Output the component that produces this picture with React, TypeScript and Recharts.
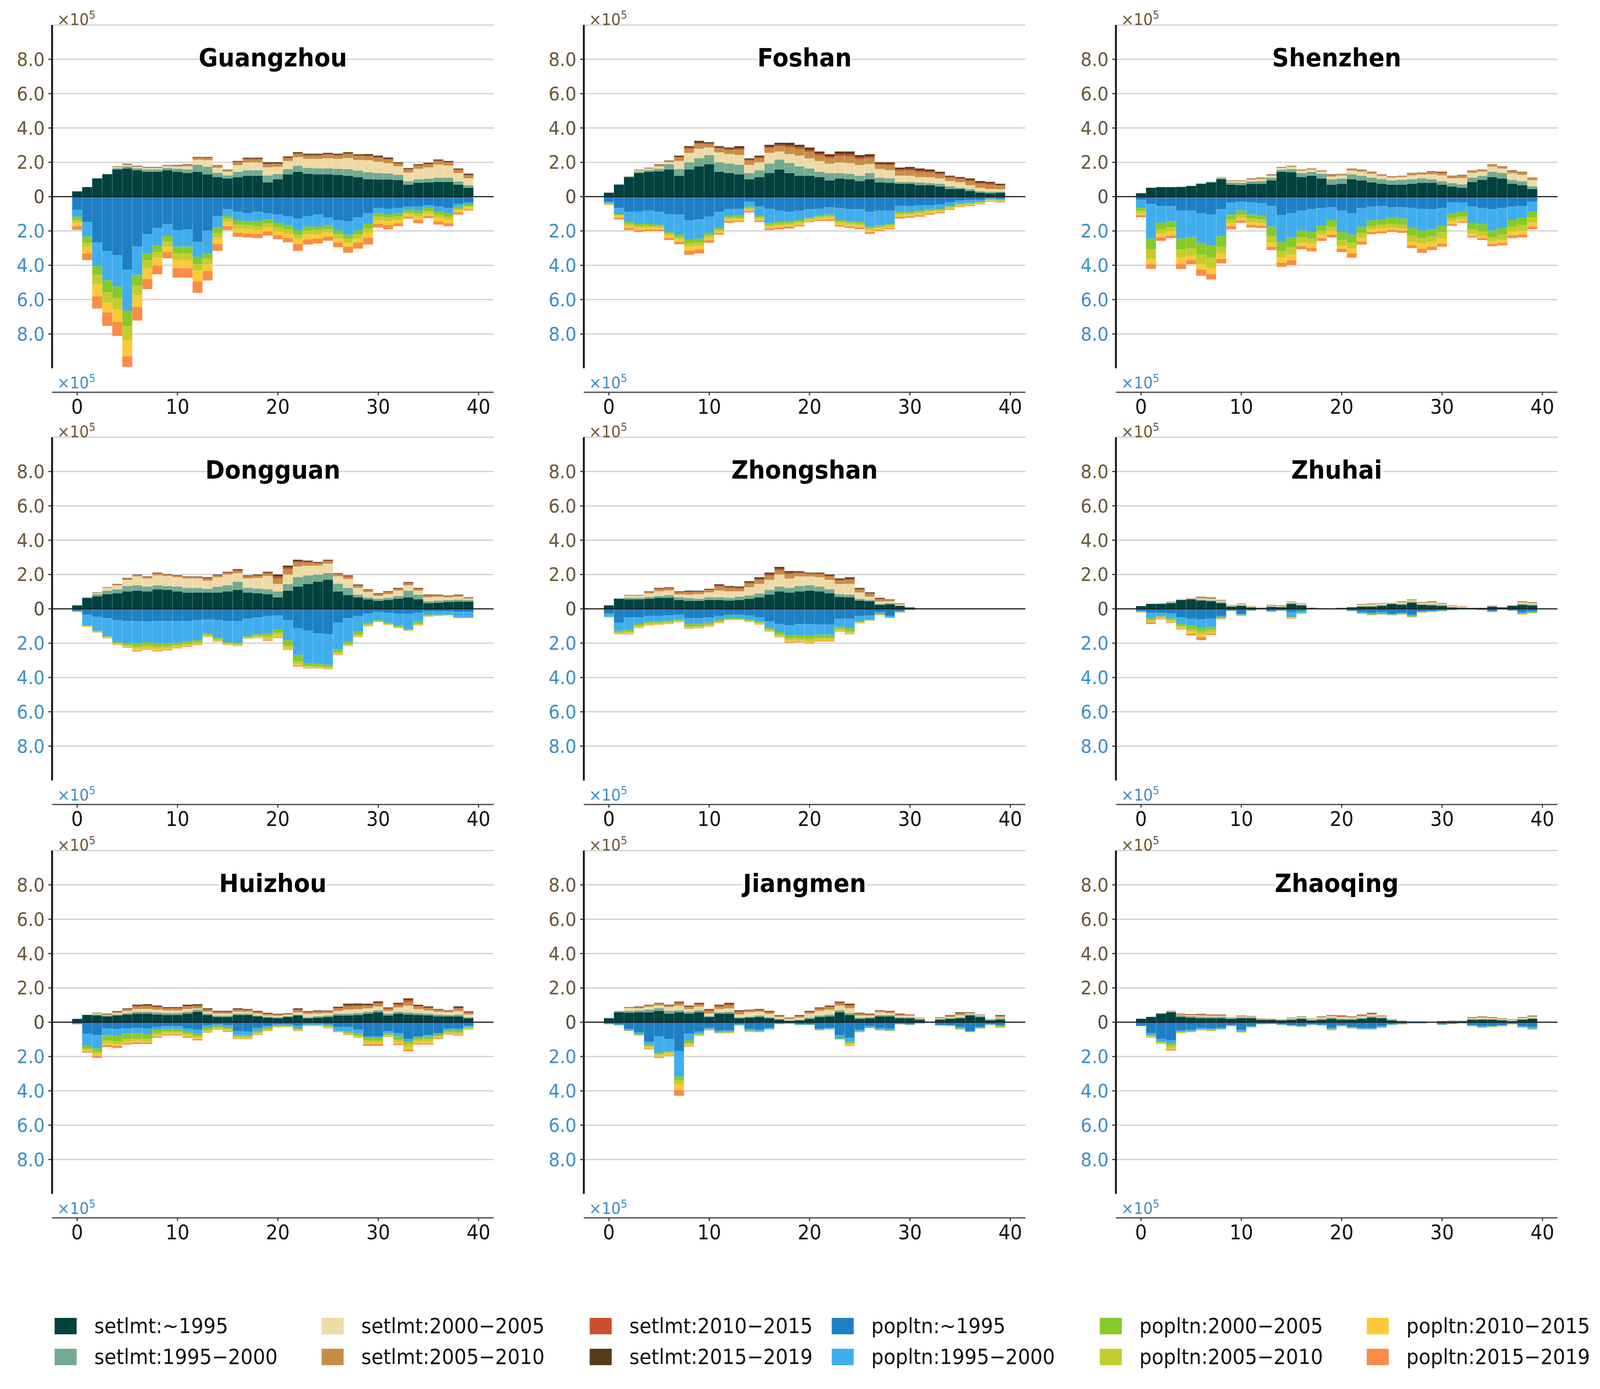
import { BarChart, Bar, XAxis, YAxis, CartesianGrid, ReferenceLine } from 'recharts';

// x categories (distance bins) and tick values
const BINS = [
  0, 1, 2, 3, 4, 5, 6, 7, 8, 9, 10, 11, 12, 13, 14, 15, 16, 17, 18, 19,
  20, 21, 22, 23, 24, 25, 26, 27, 28, 29, 30, 31, 32, 33, 34, 35, 36, 37, 38, 39,
];
const X_TICKS = [0, 10, 20, 30, 40];
const Y_TICKS = [-8, -6, -4, -2, 0, 2, 4, 6, 8];

const SETLMT_LABELS = ['setlmt:~1995', 'setlmt:1995−2000', 'setlmt:2000−2005', 'setlmt:2005−2010', 'setlmt:2010−2015', 'setlmt:2015−2019'];
const POPLTN_LABELS = ['popltn:~1995', 'popltn:1995−2000', 'popltn:2000−2005', 'popltn:2005−2010', 'popltn:2010−2015', 'popltn:2015−2019'];
const SETLMT_COLORS = ['#01423e', '#72aa92', '#efdaa7', '#c78d45', '#c9502a', '#553a1c'];
const POPLTN_COLORS = ['#1e80c4', '#40aeee', '#87c929', '#c5cd2c', '#fcc938', '#f98c46'];

const CITIES = ['Guangzhou', 'Foshan', 'Shenzhen', 'Dongguan', 'Zhongshan', 'Zhuhai', 'Huizhou', 'Jiangmen', 'Zhaoqing'];

// values in 1e5, one row per bin, columns follow the label order above
const guangzhouSetlmt = [
  [0.31,0,0,0,0,0],[0.56,0,0,0,0,0],[1.06,0.02,0,0,0,0],[1.3,0.03,0,0,0,0],
  [1.58,0.08,0.06,0.03,0.01,0.01],[1.64,0.12,0.08,0.04,0.02,0.02],[1.53,0.12,0.08,0.04,0.01,0.02],[1.45,0.14,0.08,0.03,0.01,0.02],
  [1.45,0.14,0.08,0.03,0.01,0.02],[1.53,0.14,0.1,0.04,0.01,0.02],[1.45,0.18,0.12,0.06,0.02,0.02],[1.37,0.22,0.18,0.07,0.02,0.03],
  [1.45,0.4,0.3,0.1,0.03,0.03],[1.3,0.45,0.38,0.12,0.03,0.03],[1.14,0.25,0.3,0.1,0.03,0.02],[1.06,0.18,0.22,0.08,0.02,0.02],
  [1.14,0.3,0.4,0.16,0.04,0.04],[1.22,0.32,0.45,0.18,0.05,0.05],[1.22,0.32,0.45,0.18,0.05,0.05],[0.83,0.4,0.48,0.18,0.05,0.06],
  [1.02,0.3,0.42,0.16,0.04,0.06],[1.3,0.3,0.48,0.16,0.04,0.06],[1.45,0.35,0.5,0.18,0.05,0.06],[1.33,0.35,0.52,0.18,0.05,0.07],
  [1.3,0.35,0.55,0.18,0.05,0.07],[1.3,0.35,0.58,0.2,0.05,0.07],[1.27,0.35,0.58,0.18,0.05,0.07],[1.22,0.38,0.65,0.22,0.05,0.07],
  [1.14,0.38,0.62,0.22,0.05,0.06],[1.02,0.4,0.7,0.22,0.06,0.08],[1.0,0.38,0.65,0.22,0.06,0.08],[1.0,0.35,0.6,0.2,0.06,0.07],
  [0.97,0.3,0.5,0.15,0.04,0.04],[0.7,0.2,0.5,0.18,0.04,0.04],[0.8,0.22,0.6,0.18,0.04,0.05],[0.83,0.22,0.65,0.18,0.04,0.05],
  [0.86,0.25,0.75,0.2,0.05,0.05],[0.86,0.25,0.7,0.17,0.05,0.05],[0.7,0.18,0.5,0.17,0.04,0.05],[0.52,0.15,0.4,0.17,0.04,0.06],
];
const guangzhouPopltn = [
  [0.77,0.4,0.19,0.16,0.2,0.22],[1.48,0.85,0.36,0.26,0.36,0.39],[2.66,1.4,0.5,0.55,0.7,0.71],[3.16,1.72,0.7,0.62,0.55,0.78],
  [3.42,1.81,0.66,0.7,0.71,0.81],[4.25,2.39,0.89,0.86,0.91,0.62],[2.92,1.64,0.63,0.54,0.71,0.78],[2.19,1.12,0.39,0.47,0.63,0.59],
  [1.83,1.01,0.39,0.32,0.47,0.5],[1.59,0.71,0.31,0.31,0.31,0.36],[1.95,0.97,0.39,0.39,0.47,0.55],[1.91,1.01,0.39,0.39,0.47,0.55],
  [2.64,0.88,0.42,0.39,0.62,0.66],[1.98,1.33,0.32,0.31,0.39,0.55],[1.13,0.67,0.34,0.24,0.39,0.39],[0.73,0.4,0.15,0.19,0.25,0.23],
  [0.89,0.5,0.25,0.22,0.25,0.23],[0.97,0.47,0.23,0.23,0.24,0.24],[0.89,0.55,0.28,0.23,0.23,0.24],[0.97,0.36,0.23,0.24,0.23,0.24],
  [1.05,0.47,0.27,0.23,0.23,0.23],[1.13,0.54,0.24,0.27,0.23,0.25],[1.28,0.7,0.24,0.23,0.32,0.39],[1.13,0.62,0.23,0.23,0.28,0.3],
  [1.05,0.7,0.2,0.23,0.27,0.28],[1.2,0.47,0.23,0.2,0.24,0.23],[1.36,0.62,0.23,0.23,0.23,0.28],[1.44,0.78,0.23,0.24,0.23,0.35],
  [1.2,0.78,0.23,0.24,0.23,0.35],[0.97,0.62,0.25,0.25,0.3,0.4],[0.66,0.31,0.2,0.22,0.2,0.21],[0.7,0.34,0.19,0.2,0.23,0.25],
  [0.66,0.31,0.2,0.19,0.19,0.17],[0.58,0.2,0.16,0.11,0.12,0.11],[0.58,0.23,0.19,0.17,0.19,0.19],[0.5,0.16,0.19,0.12,0.16,0.12],
  [0.58,0.31,0.16,0.19,0.2,0.19],[0.66,0.31,0.2,0.19,0.19,0.17],[0.42,0.16,0.12,0.11,0.11,0.13],[0.34,0.11,0.09,0.08,0.11,0.08],
];

const foshanSetlmt = [
  [0.23,0,0,0,0,0],[0.7,0.02,0,0,0,0],[1.14,0.03,0.02,0.01,0,0],[1.38,0.08,0.06,0.04,0.01,0.01],
  [1.45,0.1,0.08,0.04,0.01,0.01],[1.48,0.14,0.14,0.08,0.02,0.03],[1.58,0.31,0.12,0.06,0.02,0.02],[1.22,0.39,0.47,0.19,0.06,0.06],
  [1.58,0.42,0.55,0.24,0.07,0.08],[1.77,0.47,0.55,0.28,0.08,0.1],[1.89,0.53,0.44,0.19,0.06,0.06],[1.45,0.55,0.58,0.22,0.07,0.07],
  [1.38,0.55,0.55,0.24,0.07,0.07],[1.3,0.55,0.58,0.3,0.09,0.12],[1.02,0.36,0.47,0.24,0.07,0.07],[1.14,0.39,0.47,0.24,0.07,0.08],
  [1.38,0.55,0.62,0.28,0.09,0.1],[1.58,0.58,0.47,0.31,0.09,0.11],[1.38,0.58,0.52,0.39,0.12,0.15],[1.22,0.55,0.62,0.39,0.11,0.13],
  [1.22,0.42,0.59,0.38,0.11,0.14],[1.14,0.31,0.62,0.33,0.1,0.13],[0.95,0.42,0.55,0.33,0.1,0.12],[1.06,0.31,0.62,0.38,0.12,0.14],
  [1.02,0.31,0.62,0.4,0.12,0.16],[0.91,0.31,0.62,0.35,0.1,0.13],[1.02,0.36,0.52,0.34,0.1,0.13],[0.83,0.28,0.5,0.23,0.07,0.09],
  [0.8,0.27,0.47,0.28,0.08,0.1],[0.75,0.11,0.36,0.28,0.09,0.1],[0.75,0.11,0.36,0.31,0.09,0.11],[0.67,0.16,0.31,0.3,0.09,0.11],
  [0.67,0.12,0.34,0.27,0.08,0.1],[0.59,0.16,0.31,0.23,0.07,0.09],[0.44,0.16,0.31,0.19,0.06,0.06],[0.44,0.08,0.31,0.19,0.06,0.06],
  [0.33,0.11,0.23,0.23,0.07,0.09],[0.23,0.09,0.19,0.23,0.07,0.1],[0.2,0.08,0.16,0.25,0.08,0.09],[0.23,0.05,0.16,0.19,0.06,0.06],
];
const foshanPopltn = [
  [0.3,0.09,0.03,0.03,0.03,0.02],[0.66,0.36,0.05,0.05,0.12,0.09],[0.89,0.59,0.11,0.11,0.12,0.13],[0.86,0.73,0.11,0.11,0.13,0.12],
  [0.81,0.78,0.11,0.1,0.12,0.1],[0.89,0.75,0.09,0.1,0.1,0.09],[1.02,1.04,0.11,0.11,0.13,0.12],[1.05,1.17,0.14,0.13,0.15,0.13],
  [1.39,1.11,0.22,0.2,0.24,0.23],[1.33,1.12,0.21,0.2,0.23,0.22],[1.17,0.94,0.14,0.14,0.15,0.15],[0.89,0.94,0.1,0.1,0.1,0.09],
  [0.73,0.4,0.1,0.09,0.1,0.1],[0.7,0.42,0.1,0.09,0.1,0.07],[0.3,0.28,0.08,0.08,0.09,0.09],[0.58,0.55,0.08,0.09,0.09,0.09],
  [0.7,0.85,0.1,0.1,0.1,0.1],[0.81,0.67,0.1,0.11,0.11,0.11],[0.89,0.55,0.1,0.11,0.1,0.11],[0.81,0.55,0.1,0.1,0.09,0.09],
  [0.73,0.47,0.07,0.07,0.07,0.07],[0.7,0.42,0.07,0.08,0.07,0.08],[0.61,0.44,0.09,0.09,0.09,0.1],[0.66,0.7,0.1,0.1,0.1,0.09],
  [0.73,0.7,0.1,0.1,0.1,0.1],[0.73,0.75,0.1,0.1,0.1,0.12],[0.89,0.86,0.1,0.11,0.1,0.11],[0.81,0.86,0.09,0.09,0.09,0.08],
  [0.81,0.78,0.08,0.08,0.08,0.08],[0.55,0.34,0.09,0.1,0.1,0.1],[0.55,0.34,0.08,0.09,0.09,0.08],[0.5,0.31,0.09,0.09,0.09,0.09],
  [0.5,0.23,0.08,0.08,0.08,0.08],[0.45,0.25,0.07,0.07,0.07,0.06],[0.34,0.2,0.06,0.06,0.06,0.05],[0.23,0.16,0.06,0.06,0.05,0.05],
  [0.19,0.16,0.05,0.05,0.05,0.05],[0.19,0.11,0.04,0.04,0.04,0.03],[0.08,0.06,0.05,0.04,0.04,0.03],[0.11,0.08,0.04,0.04,0.04,0.03],
];

const shenzhenSetlmt = [
  [0.2,0,0,0,0,0],[0.52,0,0,0,0,0],[0.56,0,0,0,0,0],[0.55,0.01,0,0,0,0],
  [0.56,0.02,0.01,0,0,0],[0.62,0.01,0.01,0,0,0],[0.75,0.02,0.01,0,0,0],[0.83,0.03,0.01,0.01,0,0],
  [1.02,0.06,0.04,0.01,0.01,0],[0.7,0.12,0.08,0.03,0.01,0.01],[0.67,0.14,0.09,0.03,0.01,0.01],[0.75,0.14,0.1,0.04,0.01,0.02],
  [0.75,0.16,0.12,0.05,0.01,0.02],[0.95,0.15,0.12,0.05,0.01,0.02],[1.45,0.12,0.1,0.04,0.01,0.01],[1.42,0.19,0.12,0.05,0.01,0.01],
  [1.14,0.23,0.14,0.05,0.01,0.01],[1.22,0.23,0.12,0.05,0.01,0.01],[1.06,0.27,0.13,0.05,0.01,0.01],[0.7,0.31,0.16,0.09,0.02,0.02],
  [0.75,0.31,0.17,0.08,0.01,0.01],[1.02,0.28,0.22,0.09,0.02,0.01],[0.95,0.27,0.23,0.1,0.02,0.01],[0.83,0.28,0.22,0.09,0.02,0.01],
  [0.75,0.27,0.18,0.07,0.02,0.01],[0.7,0.25,0.16,0.06,0.01,0.01],[0.7,0.28,0.16,0.06,0.01,0.01],[0.75,0.27,0.22,0.1,0.02,0.02],
  [0.8,0.27,0.22,0.09,0.02,0.01],[0.8,0.22,0.28,0.13,0.03,0.02],[0.7,0.2,0.34,0.15,0.03,0.03],[0.59,0.2,0.28,0.11,0.02,0.02],
  [0.52,0.19,0.38,0.13,0.03,0.02],[0.86,0.25,0.28,0.11,0.02,0.01],[0.98,0.23,0.25,0.1,0.01,0.01],[1.14,0.31,0.3,0.11,0.02,0.01],
  [1.06,0.31,0.27,0.1,0.02,0.01],[0.75,0.23,0.38,0.13,0.02,0.02],[0.67,0.23,0.38,0.13,0.02,0.02],[0.44,0.16,0.36,0.12,0.02,0.01],
];
const shenzhenPopltn = [
  [0.19,0.47,0.16,0.14,0.12,0.12],[0.42,2.03,0.63,0.55,0.31,0.26],[0.55,0.97,0.39,0.23,0.23,0.21],[0.55,0.89,0.36,0.22,0.25,0.15],
  [0.81,1.64,0.63,0.47,0.39,0.28],[0.81,1.56,0.63,0.47,0.23,0.24],[0.97,1.72,0.7,0.55,0.31,0.36],[1.05,1.79,0.7,0.63,0.34,0.32],
  [0.73,1.57,0.63,0.39,0.31,0.26],[0.34,0.71,0.28,0.19,0.2,0.19],[0.3,0.51,0.23,0.19,0.16,0.13],[0.34,0.71,0.23,0.2,0.16,0.16],
  [0.39,0.73,0.23,0.19,0.16,0.13],[0.55,1.2,0.55,0.39,0.23,0.19],[1.08,1.53,0.55,0.39,0.31,0.23],[0.97,1.41,0.55,0.47,0.31,0.28],
  [0.81,1.17,0.39,0.31,0.2,0.19],[0.73,1.33,0.39,0.31,0.23,0.2],[0.66,1.02,0.31,0.23,0.2,0.16],[0.61,0.75,0.39,0.27,0.2,0.16],
  [0.81,1.25,0.47,0.31,0.2,0.19],[0.97,1.25,0.47,0.31,0.31,0.24],[0.66,1.09,0.36,0.27,0.23,0.19],[0.58,0.81,0.31,0.2,0.16,0.13],
  [0.55,0.78,0.31,0.22,0.16,0.12],[0.61,0.62,0.36,0.2,0.14,0.13],[0.61,0.67,0.36,0.22,0.13,0.12],[0.66,1.17,0.44,0.34,0.23,0.16],
  [0.7,1.28,0.44,0.34,0.28,0.23],[0.73,1.17,0.42,0.33,0.27,0.19],[0.66,1.02,0.39,0.39,0.28,0.18],[0.34,0.63,0.27,0.2,0.16,0.1],
  [0.34,0.55,0.28,0.16,0.11,0.08],[0.58,0.94,0.39,0.23,0.16,0.08],[0.66,0.94,0.42,0.25,0.16,0.1],[0.73,1.25,0.39,0.23,0.16,0.13],
  [0.66,1.17,0.39,0.31,0.16,0.15],[0.58,0.78,0.39,0.31,0.2,0.16],[0.55,0.69,0.41,0.34,0.23,0.16],[0.3,0.59,0.34,0.28,0.23,0.16],
];

const dongguanSetlmt = [
  [0.2,0.02,0,0,0,0],[0.64,0.02,0.01,0,0,0],[0.73,0.12,0.06,0.03,0.01,0.01],[0.86,0.2,0.16,0.03,0.01,0.01],
  [0.91,0.23,0.23,0.05,0.01,0.02],[1.02,0.31,0.36,0.07,0.02,0.02],[1.06,0.31,0.52,0.07,0.02,0.02],[1.02,0.28,0.47,0.08,0.02,0.02],
  [1.14,0.23,0.58,0.1,0.03,0.03],[1.11,0.22,0.59,0.07,0.02,0.02],[1.02,0.28,0.55,0.07,0.02,0.02],[0.95,0.27,0.55,0.08,0.02,0.02],
  [0.95,0.27,0.55,0.08,0.02,0.02],[0.95,0.22,0.47,0.12,0.04,0.04],[0.95,0.34,0.55,0.1,0.03,0.03],[1.02,0.36,0.62,0.1,0.03,0.03],
  [1.11,0.47,0.5,0.14,0.04,0.05],[0.95,0.27,0.55,0.11,0.04,0.03],[0.91,0.27,0.62,0.12,0.04,0.04],[0.86,0.28,0.78,0.14,0.05,0.05],
  [0.67,0.34,0.44,0.33,0.11,0.11],[1.06,0.39,0.55,0.31,0.1,0.11],[1.3,0.55,0.62,0.23,0.08,0.08],[1.45,0.5,0.56,0.18,0.06,0.06],
  [1.58,0.42,0.52,0.13,0.04,0.04],[1.69,0.39,0.55,0.15,0.04,0.04],[1.02,0.44,0.44,0.12,0.03,0.03],[0.8,0.42,0.52,0.13,0.04,0.04],
  [0.67,0.16,0.39,0.12,0.04,0.04],[0.55,0.12,0.31,0.1,0.03,0.03],[0.47,0.12,0.16,0.1,0.03,0.03],[0.52,0.12,0.22,0.11,0.03,0.03],
  [0.59,0.16,0.31,0.1,0.03,0.03],[0.67,0.39,0.31,0.11,0.04,0.04],[0.55,0.28,0.23,0.1,0.03,0.03],[0.33,0.11,0.23,0.1,0.03,0.03],
  [0.36,0.12,0.22,0.08,0.03,0.02],[0.39,0.12,0.16,0.07,0.02,0.02],[0.42,0.12,0.16,0.08,0.03,0.02],[0.42,0.09,0.08,0.05,0.01,0.02],
];
const dongguanPopltn = [
  [0.11,0.05,0.01,0.01,0.01,0],[0.34,0.63,0.03,0.02,0.02,0.01],[0.45,0.83,0.04,0.03,0.02,0.02],[0.55,1.04,0.05,0.03,0.03,0.02],
  [0.66,1.29,0.06,0.04,0.04,0.02],[0.7,1.31,0.11,0.07,0.05,0.03],[0.7,1.31,0.2,0.12,0.1,0.05],[0.73,1.22,0.2,0.1,0.08,0.05],
  [0.7,1.31,0.2,0.12,0.1,0.05],[0.7,1.31,0.18,0.1,0.08,0.05],[0.7,1.28,0.14,0.08,0.06,0.04],[0.7,1.2,0.14,0.08,0.06,0.04],
  [0.66,1.17,0.12,0.07,0.05,0.04],[0.61,0.83,0.08,0.05,0.04,0.03],[0.66,1.02,0.1,0.06,0.04,0.03],[0.7,1.25,0.07,0.04,0.03,0.02],
  [0.7,1.28,0.08,0.05,0.04,0.02],[0.58,1.02,0.07,0.04,0.03,0.01],[0.5,0.98,0.09,0.06,0.04,0.03],[0.42,1.02,0.16,0.1,0.1,0.06],
  [0.39,0.81,0.2,0.14,0.1,0.06],[0.66,1.17,0.31,0.12,0.08,0.04],[1.13,1.56,0.39,0.14,0.08,0.06],[1.28,1.88,0.17,0.07,0.04,0.03],
  [1.44,1.77,0.14,0.06,0.03,0.03],[1.48,1.78,0.14,0.06,0.03,0.03],[0.81,1.56,0.17,0.08,0.04,0.03],[0.55,1.36,0.14,0.06,0.04,0.02],
  [0.42,0.91,0.17,0.07,0.04,0.03],[0.27,0.54,0.11,0.05,0.03,0.02],[0.19,0.47,0.06,0.03,0.01,0.01],[0.23,0.58,0.07,0.03,0.02,0.01],
  [0.27,0.7,0.09,0.04,0.02,0.01],[0.3,0.88,0.06,0.02,0.01,0.01],[0.23,0.5,0.13,0.06,0.03,0.02],[0.14,0.2,0.07,0.03,0.02,0.01],
  [0.14,0.2,0.05,0.02,0.01,0],[0.14,0.2,0.03,0.01,0.01,0],[0.19,0.31,0.03,0.01,0.01,0],[0.19,0.31,0.03,0.01,0.01,0],
];

const zhongshanSetlmt = [
  [0.2,0,0,0,0,0],[0.59,0.02,0.01,0,0,0],[0.55,0.09,0.12,0.03,0.01,0.01],[0.55,0.09,0.12,0.03,0.01,0.01],
  [0.59,0.11,0.2,0.07,0.02,0.03],[0.64,0.11,0.27,0.12,0.04,0.04],[0.64,0.16,0.27,0.11,0.03,0.04],[0.52,0.16,0.16,0.11,0.03,0.04],
  [0.47,0.16,0.2,0.14,0.04,0.05],[0.47,0.12,0.27,0.12,0.04,0.04],[0.52,0.16,0.28,0.13,0.04,0.04],[0.52,0.16,0.39,0.22,0.07,0.07],
  [0.48,0.16,0.38,0.19,0.06,0.06],[0.52,0.19,0.31,0.17,0.05,0.06],[0.59,0.2,0.47,0.21,0.07,0.07],[0.67,0.23,0.55,0.23,0.08,0.08],
  [0.83,0.28,0.58,0.25,0.08,0.09],[1.02,0.28,0.7,0.26,0.09,0.09],[0.95,0.27,0.55,0.26,0.08,0.09],[1.02,0.31,0.56,0.18,0.06,0.06],
  [1.06,0.31,0.52,0.14,0.04,0.04],[1.02,0.28,0.55,0.16,0.05,0.05],[0.91,0.23,0.55,0.19,0.06,0.06],[0.7,0.16,0.59,0.19,0.06,0.07],
  [0.67,0.16,0.62,0.23,0.08,0.08],[0.48,0.11,0.36,0.16,0.05,0.06],[0.44,0.08,0.19,0.15,0.05,0.05],[0.23,0.06,0.14,0.12,0.04,0.05],
  [0.27,0.06,0.11,0.08,0.02,0.02],[0.17,0.03,0.06,0.05,0.01,0.01],[0.08,0.01,0.01,0,0,0],[0.03,0,0,0,0,0],
  [0,0,0,0,0,0],[0,0,0,0,0,0],[0,0,0,0,0,0],[0,0,0,0,0,0],
  [0,0,0,0,0,0],[0,0,0,0,0,0],[0,0,0,0,0,0],[0,0,0,0,0,0],
];
const zhongshanPopltn = [
  [0.27,0.19,0.02,0.01,0.01,0],[0.81,0.47,0.08,0.05,0.04,0.03],[0.5,0.7,0.12,0.07,0.05,0.04],[0.5,0.36,0.12,0.07,0.05,0.03],
  [0.42,0.34,0.09,0.06,0.04,0.02],[0.42,0.31,0.1,0.06,0.03,0.02],[0.39,0.3,0.09,0.06,0.03,0.02],[0.34,0.27,0.08,0.05,0.02,0.02],
  [0.55,0.34,0.13,0.08,0.04,0.03],[0.55,0.34,0.12,0.07,0.03,0.02],[0.5,0.31,0.11,0.07,0.04,0.02],[0.42,0.23,0.09,0.05,0.03,0.02],
  [0.34,0.2,0.06,0.03,0.02,0.01],[0.34,0.2,0.06,0.03,0.02,0.01],[0.39,0.22,0.08,0.04,0.03,0.01],[0.5,0.23,0.09,0.05,0.03,0.02],
  [0.73,0.39,0.1,0.06,0.03,0.02],[0.89,0.47,0.14,0.09,0.05,0.03],[0.97,0.55,0.2,0.13,0.08,0.05],[0.89,0.63,0.19,0.12,0.07,0.05],
  [0.89,0.66,0.2,0.13,0.08,0.06],[0.92,0.59,0.17,0.11,0.07,0.05],[0.92,0.59,0.17,0.11,0.07,0.05],[0.58,0.47,0.12,0.08,0.05,0.03],
  [0.58,0.55,0.16,0.1,0.06,0.03],[0.42,0.28,0.07,0.05,0.03,0.01],[0.39,0.22,0.05,0.02,0.01,0.01],[0.19,0.11,0.04,0.02,0.01,0.01],
  [0.42,0.08,0.02,0.01,0,0],[0.14,0.05,0.02,0.01,0,0],[0.05,0.01,0,0,0,0],[0,0,0,0,0,0],
  [0,0,0,0,0,0],[0,0,0,0,0,0],[0,0,0,0,0,0],[0,0,0,0,0,0],
  [0,0,0,0,0,0],[0,0,0,0,0,0],[0,0,0,0,0,0],[0,0,0,0,0,0],
];

const zhuhaiSetlmt = [
  [0.16,0.01,0,0,0,0],[0.28,0.02,0.01,0,0,0],[0.28,0.03,0.01,0.01,0,0],[0.33,0.05,0.04,0.02,0,0],
  [0.52,0.02,0.01,0.01,0,0],[0.55,0.04,0.03,0.01,0.01,0],[0.48,0.06,0.07,0.04,0.03,0.02],[0.44,0.06,0.08,0.05,0.02,0.02],
  [0.33,0.06,0.08,0.03,0.01,0.01],[0.12,0.04,0.04,0.02,0.01,0],[0.17,0.05,0.05,0.02,0.01,0.01],[0.08,0.03,0.04,0.01,0.01,0],
  [0.05,0.01,0.01,0.01,0,0],[0.11,0.04,0.04,0.02,0.01,0.01],[0.09,0.04,0.04,0.02,0.01,0.01],[0.28,0.06,0.07,0.02,0.01,0],
  [0.2,0.04,0.06,0.02,0.01,0],[0.05,0.01,0.01,0.01,0,0],[0.03,0.01,0,0,0,0],[0.01,0,0,0,0,0],
  [0.05,0.01,0.01,0,0,0],[0.08,0.02,0.01,0.01,0,0],[0.12,0.04,0.07,0.03,0.01,0.01],[0.12,0.05,0.08,0.04,0.01,0.01],
  [0.17,0.05,0.07,0.02,0.01,0.01],[0.28,0.03,0.03,0.01,0.01,0],[0.23,0.06,0.09,0.04,0.01,0.01],[0.36,0.06,0.08,0.03,0.01,0.01],
  [0.23,0.04,0.07,0.03,0.01,0.01],[0.2,0.06,0.1,0.05,0.02,0.01],[0.17,0.04,0.07,0.03,0.01,0.01],[0.08,0.03,0.05,0.02,0.01,0.01],
  [0.05,0.03,0.05,0.02,0.01,0],[0.05,0.01,0.01,0,0,0],[0.05,0.01,0,0,0,0],[0.12,0.02,0.04,0.01,0.01,0],
  [0.08,0.01,0.02,0.01,0,0],[0.17,0.02,0.02,0.01,0.01,0],[0.23,0.05,0.09,0.04,0.02,0.01],[0.2,0.05,0.08,0.04,0.01,0.01],
];
const zhuhaiPopltn = [
  [0.11,0.06,0.02,0.02,0.01,0.01],[0.23,0.32,0.08,0.07,0.08,0.11],[0.23,0.19,0.06,0.05,0.04,0.04],[0.27,0.28,0.08,0.07,0.06,0.05],
  [0.5,0.39,0.11,0.08,0.07,0.05],[0.58,0.39,0.23,0.13,0.11,0.11],[0.61,0.52,0.2,0.16,0.16,0.18],[0.58,0.47,0.19,0.12,0.08,0.08],
  [0.42,0.08,0.04,0.03,0.02,0.02],[0.08,0.03,0.01,0.01,0.01,0],[0.3,0.05,0.03,0.02,0.01,0.01],[0.08,0.02,0.01,0,0,0],
  [0.02,0.01,0,0,0,0],[0.11,0.04,0.02,0.01,0.01,0],[0.08,0.02,0.01,0,0,0],[0.19,0.26,0.05,0.03,0.03,0.02],
  [0.11,0.12,0.03,0.02,0.01,0.01],[0.02,0.01,0,0,0,0],[0.01,0,0,0,0,0],[0,0,0,0,0,0],
  [0.02,0,0,0,0,0],[0.1,0.02,0.01,0.01,0,0],[0.19,0.06,0.02,0.02,0.01,0],[0.23,0.08,0.03,0.02,0.01,0.01],
  [0.19,0.1,0.02,0.02,0.01,0],[0.27,0.08,0.02,0.01,0.01,0],[0.23,0.07,0.02,0.01,0.01,0],[0.34,0.08,0.04,0.02,0.01,0.01],
  [0.14,0.04,0.02,0.02,0.01,0],[0.11,0.04,0.02,0.01,0.01,0],[0.08,0.03,0.02,0.01,0,0],[0.05,0.02,0.01,0,0,0],
  [0.03,0.01,0,0,0,0],[0.02,0.01,0,0,0,0],[0.05,0.01,0,0,0,0],[0.14,0.03,0.01,0.01,0,0],
  [0.03,0.01,0,0,0,0],[0.08,0.02,0.01,0,0,0],[0.19,0.08,0.03,0.02,0.01,0.01],[0.14,0.06,0.03,0.02,0.01,0.01],
];

const huizhouSetlmt = [
  [0.19,0.01,0,0,0,0],[0.42,0.02,0.01,0,0,0],[0.39,0.06,0.05,0.03,0.01,0.01],[0.34,0.05,0.03,0.04,0.02,0.02],
  [0.39,0.06,0.09,0.06,0.02,0.03],[0.45,0.09,0.11,0.09,0.03,0.04],[0.5,0.11,0.16,0.14,0.05,0.06],[0.5,0.11,0.16,0.16,0.06,0.06],
  [0.45,0.12,0.16,0.13,0.05,0.06],[0.42,0.12,0.14,0.11,0.04,0.05],[0.42,0.12,0.14,0.11,0.04,0.05],[0.5,0.11,0.16,0.14,0.05,0.06],
  [0.61,0.12,0.08,0.13,0.05,0.06],[0.42,0.08,0.12,0.1,0.04,0.05],[0.3,0.08,0.12,0.09,0.03,0.04],[0.3,0.08,0.12,0.09,0.03,0.04],
  [0.42,0.08,0.12,0.1,0.04,0.05],[0.42,0.08,0.11,0.09,0.03,0.04],[0.34,0.05,0.11,0.09,0.03,0.04],[0.27,0.05,0.08,0.08,0.03,0.04],
  [0.23,0.06,0.09,0.06,0.02,0.03],[0.3,0.05,0.08,0.06,0.02,0.02],[0.39,0.06,0.12,0.13,0.05,0.06],[0.23,0.06,0.2,0.09,0.03,0.04],
  [0.27,0.08,0.16,0.1,0.04,0.04],[0.3,0.09,0.14,0.09,0.03,0.03],[0.39,0.11,0.16,0.13,0.05,0.06],[0.39,0.11,0.23,0.19,0.07,0.09],
  [0.42,0.12,0.22,0.18,0.07,0.08],[0.5,0.11,0.2,0.15,0.05,0.07],[0.58,0.12,0.22,0.16,0.06,0.07],[0.39,0.11,0.16,0.11,0.04,0.05],
  [0.5,0.11,0.25,0.15,0.05,0.07],[0.45,0.12,0.39,0.23,0.1,0.1],[0.42,0.12,0.22,0.14,0.05,0.07],[0.39,0.11,0.19,0.13,0.05,0.05],
  [0.34,0.11,0.16,0.09,0.03,0.04],[0.34,0.08,0.16,0.07,0.02,0.03],[0.34,0.11,0.2,0.14,0.05,0.08],[0.23,0.06,0.16,0.09,0.04,0.05],
];
const huizhouPopltn = [
  [0.08,0.03,0.01,0,0,0],[0.67,0.71,0.16,0.08,0.08,0.07],[0.75,0.78,0.2,0.12,0.11,0.12],[0.36,0.39,0.31,0.16,0.11,0.12],
  [0.39,0.41,0.31,0.16,0.11,0.12],[0.36,0.31,0.31,0.13,0.11,0.08],[0.33,0.31,0.31,0.11,0.11,0.1],[0.36,0.34,0.28,0.13,0.08,0.08],
  [0.28,0.16,0.2,0.11,0.08,0.08],[0.23,0.16,0.16,0.09,0.06,0.07],[0.23,0.16,0.16,0.09,0.06,0.07],[0.36,0.19,0.12,0.08,0.08,0.08],
  [0.44,0.23,0.12,0.11,0.08,0.08],[0.17,0.16,0.11,0.08,0.05,0.04],[0.12,0.11,0.08,0.05,0.04,0.04],[0.17,0.12,0.1,0.07,0.05,0.05],
  [0.52,0.23,0.08,0.08,0.04,0.03],[0.55,0.2,0.08,0.08,0.04,0.03],[0.33,0.16,0.1,0.07,0.05,0.04],[0.2,0.12,0.08,0.05,0.04,0.03],
  [0.12,0.08,0.04,0.03,0.02,0.01],[0.12,0.08,0.04,0.02,0.02,0.01],[0.2,0.16,0.06,0.04,0.03,0.03],[0.08,0.08,0.03,0.02,0.01,0.01],
  [0.08,0.08,0.03,0.02,0.01,0.01],[0.12,0.08,0.06,0.04,0.03,0.03],[0.28,0.23,0.04,0.02,0.01,0.01],[0.28,0.27,0.08,0.06,0.03,0.03],
  [0.44,0.23,0.1,0.07,0.04,0.03],[0.83,0.08,0.16,0.11,0.09,0.11],[0.83,0.08,0.16,0.11,0.09,0.11],[0.52,0.12,0.09,0.06,0.04,0.03],
  [0.64,0.19,0.2,0.13,0.09,0.08],[0.98,0.13,0.16,0.16,0.16,0.1],[0.83,0.08,0.12,0.11,0.08,0.08],[0.75,0.08,0.16,0.12,0.11,0.08],
  [0.64,0.06,0.1,0.08,0.05,0.05],[0.36,0.12,0.09,0.06,0.05,0.04],[0.36,0.12,0.11,0.08,0.06,0.05],[0.2,0.08,0.06,0.04,0.03,0.03],
];

const jiangmenSetlmt = [
  [0.23,0.02,0.01,0,0,0],[0.58,0.06,0.01,0.01,0,0],[0.55,0.11,0.16,0.04,0.02,0.01],[0.58,0.11,0.12,0.06,0.03,0.02],
  [0.58,0.16,0.16,0.07,0.03,0.02],[0.66,0.16,0.16,0.09,0.04,0.02],[0.5,0.16,0.23,0.07,0.03,0.03],[0.58,0.12,0.27,0.13,0.06,0.04],
  [0.5,0.11,0.16,0.11,0.05,0.04],[0.58,0.12,0.22,0.11,0.05,0.05],[0.3,0.05,0.16,0.15,0.06,0.05],[0.5,0.08,0.19,0.14,0.06,0.05],
  [0.5,0.11,0.2,0.17,0.08,0.07],[0.23,0.06,0.16,0.14,0.06,0.05],[0.27,0.06,0.25,0.08,0.04,0.03],[0.3,0.09,0.22,0.08,0.04,0.04],
  [0.23,0.06,0.2,0.09,0.04,0.04],[0.14,0.05,0.11,0.07,0.03,0.02],[0.08,0.03,0.08,0.04,0.02,0.02],[0.11,0.03,0.13,0.08,0.04,0.03],
  [0.19,0.08,0.23,0.08,0.04,0.04],[0.3,0.09,0.27,0.11,0.05,0.04],[0.34,0.11,0.28,0.13,0.06,0.05],[0.58,0.12,0.27,0.13,0.06,0.04],
  [0.42,0.12,0.27,0.15,0.07,0.05],[0.19,0.08,0.12,0.09,0.04,0.03],[0.23,0.06,0.09,0.06,0.03,0.03],[0.34,0.08,0.16,0.07,0.03,0.02],
  [0.34,0.08,0.11,0.07,0.03,0.03],[0.23,0.06,0.09,0.06,0.03,0.03],[0.23,0.06,0.09,0.03,0.02,0.02],[0.14,0.05,0.05,0.02,0.01,0],
  [0.03,0.01,0.01,0.01,0,0],[0.14,0.05,0.05,0.03,0.02,0.01],[0.19,0.05,0.06,0.07,0.03,0.02],[0.23,0.06,0.12,0.09,0.04,0.04],
  [0.39,0.06,0.05,0.04,0.02,0.02],[0.3,0.05,0.05,0.03,0.01,0.01],[0.11,0.03,0.02,0.02,0.01,0],[0.14,0.09,0.06,0.07,0.03,0.03],
];
const jiangmenPopltn = [
  [0.08,0.03,0.01,0,0,0],[0.12,0.05,0.02,0.01,0,0],[0.39,0.09,0.02,0.01,0.01,0],[0.59,0.11,0.03,0.02,0.02,0.01],
  [1.14,0.16,0.09,0.06,0.08,0.05],[0.83,0.94,0.08,0.08,0.08,0.07],[0.98,0.7,0.08,0.07,0.07,0.05],[1.69,1.48,0.23,0.23,0.31,0.34],
  [0.67,0.39,0.16,0.08,0.08,0.04],[0.55,0.12,0.05,0.03,0.03,0.02],[0.33,0.06,0.04,0.02,0.02,0.01],[0.48,0.11,0.02,0.01,0.01,0.01],
  [0.48,0.06,0.04,0.03,0.02,0.01],[0.12,0.05,0.02,0.01,0,0],[0.39,0.09,0.04,0.03,0.02,0.01],[0.44,0.08,0.03,0.02,0.01,0.01],
  [0.33,0.06,0.02,0.01,0.01,0.01],[0.08,0.02,0.01,0.01,0,0],[0.06,0.02,0.01,0,0,0],[0.12,0.03,0.01,0.01,0,0],
  [0.12,0.03,0.01,0.01,0,0],[0.36,0.08,0.02,0.01,0.01,0],[0.33,0.06,0.02,0.01,0.01,0.01],[0.75,0.2,0.03,0.02,0.01,0.01],
  [0.91,0.23,0.08,0.08,0.05,0.04],[0.44,0.08,0.03,0.02,0.01,0.01],[0.23,0.09,0.02,0.01,0.01,0],[0.33,0.11,0.02,0.01,0.01,0],
  [0.36,0.12,0.02,0.01,0.01,0],[0.08,0.03,0.01,0.01,0,0],[0.12,0.03,0.01,0.01,0,0],[0.05,0.02,0.01,0,0,0],
  [0.03,0.01,0,0,0,0],[0.17,0.02,0.01,0,0,0],[0.17,0.03,0.01,0.01,0,0],[0.28,0.08,0.03,0.03,0.01,0.01],
  [0.52,0.03,0.02,0.01,0.01,0],[0.28,0.05,0.03,0.01,0.01,0],[0.12,0.03,0.01,0.01,0,0],[0.17,0.06,0.04,0.03,0.02,0.01],
];

const zhaoqingSetlmt = [
  [0.19,0.02,0.01,0,0,0],[0.3,0.02,0.01,0,0,0],[0.5,0.02,0.01,0,0,0],[0.58,0.04,0.02,0.02,0.01,0],
  [0.3,0.09,0.03,0.05,0.02,0.01],[0.27,0.08,0.05,0.04,0.02,0.01],[0.23,0.09,0.06,0.06,0.03,0.02],[0.23,0.08,0.06,0.05,0.02,0.01],
  [0.23,0.08,0.06,0.05,0.02,0.01],[0.19,0.05,0.03,0.02,0.01,0],[0.23,0.06,0.05,0.03,0.01,0.01],[0.23,0.06,0.03,0.02,0.01,0.01],
  [0.14,0.03,0.02,0.02,0.01,0],[0.14,0.03,0.02,0.01,0.01,0],[0.11,0.03,0.02,0.01,0,0],[0.14,0.04,0.05,0.02,0.01,0.01],
  [0.19,0.05,0.06,0.02,0.01,0.01],[0.11,0.03,0.05,0.02,0.01,0],[0.14,0.05,0.08,0.04,0.02,0.01],[0.19,0.08,0.08,0.04,0.02,0.01],
  [0.14,0.06,0.1,0.05,0.02,0.02],[0.14,0.05,0.08,0.04,0.02,0.01],[0.19,0.06,0.1,0.05,0.03,0.02],[0.27,0.07,0.1,0.06,0.03,0.02],
  [0.23,0.04,0.06,0.03,0.02,0.01],[0.11,0.03,0.03,0.01,0.01,0],[0.06,0.02,0.02,0.01,0,0],[0.03,0.01,0.01,0.01,0,0],
  [0.03,0.01,0.01,0.01,0,0],[0.01,0,0,0,0,0],[0.05,0.01,0.01,0.01,0,0],[0.05,0.02,0.02,0.01,0.01,0],
  [0.06,0.02,0.02,0.01,0,0],[0.14,0.04,0.06,0.03,0.02,0.01],[0.14,0.05,0.08,0.04,0.02,0.01],[0.14,0.04,0.06,0.03,0.02,0.01],
  [0.11,0.03,0.05,0.02,0.01,0.01],[0.06,0.03,0.04,0.02,0.01,0.01],[0.14,0.04,0.07,0.03,0.01,0.01],[0.19,0.05,0.08,0.04,0.02,0.01],
];
const zhaoqingPopltn = [
  [0.2,0.02,0.01,0,0,0],[0.64,0.11,0.06,0.04,0.04,0.02],[0.98,0.16,0.05,0.03,0.03,0.02],[1.06,0.2,0.11,0.11,0.09,0.08],
  [0.48,0.06,0.04,0.03,0.02,0.01],[0.44,0.08,0.03,0.02,0.01,0.01],[0.33,0.08,0.03,0.02,0.01,0.01],[0.36,0.08,0.03,0.03,0.01,0.01],
  [0.33,0.06,0.02,0.02,0.01,0],[0.17,0.04,0.01,0.01,0,0],[0.44,0.11,0.03,0.02,0.01,0],[0.23,0.05,0.02,0.01,0,0],
  [0.08,0.03,0.01,0,0,0],[0.08,0.02,0.01,0,0,0],[0.12,0.03,0.01,0.01,0,0],[0.17,0.04,0.01,0.01,0,0],
  [0.2,0.05,0.02,0.01,0,0],[0.12,0.03,0.01,0.01,0,0],[0.14,0.04,0.01,0.01,0,0],[0.33,0.06,0.04,0.03,0.01,0.01],
  [0.17,0.04,0.02,0.01,0,0],[0.28,0.05,0.02,0.01,0.01,0],[0.33,0.06,0.02,0.01,0.01,0.01],[0.33,0.06,0.02,0.01,0.01,0.01],
  [0.23,0.06,0.02,0.01,0.01,0],[0.12,0.03,0.01,0.01,0,0],[0.08,0.03,0.01,0.01,0,0],[0.05,0.02,0.01,0,0,0],
  [0.05,0.02,0.01,0,0,0],[0.01,0,0,0,0,0],[0.12,0.03,0.01,0,0,0],[0.08,0.02,0.01,0,0,0],
  [0.05,0.02,0.01,0,0,0],[0.17,0.04,0.02,0.01,0,0],[0.23,0.06,0.02,0.01,0.01,0],[0.2,0.05,0.02,0.01,0.01,0],
  [0.17,0.04,0.02,0.01,0,0],[0.08,0.03,0.01,0.01,0,0],[0.23,0.05,0.02,0.02,0.01,0],[0.28,0.08,0.04,0.02,0.01,0.01],
];

const CITY_SETLMT = [guangzhouSetlmt, foshanSetlmt, shenzhenSetlmt, dongguanSetlmt, zhongshanSetlmt, zhuhaiSetlmt, huizhouSetlmt, jiangmenSetlmt, zhaoqingSetlmt];
const CITY_POPLTN = [guangzhouPopltn, foshanPopltn, shenzhenPopltn, dongguanPopltn, zhongshanPopltn, zhuhaiPopltn, huizhouPopltn, jiangmenPopltn, zhaoqingPopltn];

// layout (px, in figure coordinates)
const FIG_W = 4363;
const FIG_H = 3555;
const COL_X = [0, 1450, 2901];
const ROW_Y = [0, 1055, 2113];
const PANEL_W = 1450;
const PANEL_H = 1120;
const PLOT_TOP = 64;
const PLOT_LEFT = 142;
const PLOT_RIGHT = 1346;
const FONT = 'DejaVu Sans';
const BROWN = '#6b5836';
const BLUE = '#3d8fc6';

function buildRows(set: number[][], pop: number[][]) {
  return BINS.map((bin, i) => {
    const row: Record<string, number> = { bin };
    set[i].forEach((v, k) => { row['s' + k] = v; });
    pop[i].forEach((v, k) => { row['p' + k] = -v; });
    return row;
  });
}

const YTick = (props: any) => {
  const { x, y, payload } = props;
  const v = payload.value;
  const fill = v > 0 ? BROWN : v < 0 ? BLUE : '#5a4a35';
  const label = v === 0 ? '0' : Math.abs(v).toFixed(1);
  return (
    <text x={x} y={y} dy="0.355em" textAnchor="end" fill={fill} fontSize={48} fontFamily={FONT}>
      {label}
    </text>
  );
};

function Panel({ index }: { index: number }) {
  const data = buildRows(CITY_SETLMT[index], CITY_POPLTN[index]);
  const left = COL_X[index % 3];
  const top = ROW_Y[Math.floor(index / 3)];
  return (
    <div style={{ position: 'absolute', left, top, width: PANEL_W, height: PANEL_H }}>
      <BarChart
        width={PANEL_W}
        height={PANEL_H}
        data={data}
        stackOffset="sign"
        barCategoryGap={0}
        barGap={0}
        margin={{ top: PLOT_TOP, right: PANEL_W - PLOT_RIGHT, bottom: 0, left: 0 }}
      >
        <CartesianGrid vertical={false} stroke="#cfcfcf" strokeWidth={3} />
        <XAxis
          dataKey="bin"
          type="number"
          domain={[-2.5, 41.5]}
          ticks={X_TICKS}
          allowDataOverflow
          height={PANEL_H - 1004}
          tickSize={8}
          tickMargin={11}
          axisLine={{ stroke: '#444', strokeWidth: 3 }}
          tickLine={{ stroke: '#333', strokeWidth: 3 }}
          tick={{ fontSize: 51, fill: '#111', fontFamily: FONT }}
        />
        <YAxis
          type="number"
          domain={[-11.4, 10]}
          ticks={Y_TICKS}
          interval={0}
          allowDataOverflow
          width={PLOT_LEFT}
          axisLine={false}
          tickSize={10}
          tickMargin={10}
          tickLine={{ stroke: '#333', strokeWidth: 3 }}
          tick={<YTick />}
        />
        {SETLMT_COLORS.map((c, k) => (
          <Bar key={'s' + k} dataKey={'s' + k} stackId="a" fill={c} isAnimationActive={false} />
        ))}
        {POPLTN_COLORS.map((c, k) => (
          <Bar key={'p' + k} dataKey={'p' + k} stackId="a" fill={c} isAnimationActive={false} />
        ))}
        <ReferenceLine y={0} stroke="#222" strokeWidth={3} />
        <ReferenceLine segment={[{ x: -2.5, y: -10 }, { x: -2.5, y: 10 }]} stroke="#111" strokeWidth={5} />
      </BarChart>
    </div>
  );
}

function Overlay() {
  const legendItems = [
    ...SETLMT_LABELS.map((l, k) => ({ label: l, color: SETLMT_COLORS[k] })),
    ...POPLTN_LABELS.map((l, k) => ({ label: l, color: POPLTN_COLORS[k] })),
  ];
  const legendX = [149, 877, 1608, 2268, 2999, 3727];
  const legendY = [3373, 3452];
  return (
    <svg width={FIG_W} height={FIG_H} style={{ position: 'absolute', left: 0, top: 0, pointerEvents: 'none' }}>
      {CITIES.map((name, i) => {
        const x0 = COL_X[i % 3];
        const y0 = ROW_Y[Math.floor(i / 3)];
        const cx = x0 + (PLOT_LEFT + PLOT_RIGHT) / 2;
        const halfW = name.length * 21;
        return (
          <g key={name}>
            <rect x={cx - halfW} y={y0 + 122} width={halfW * 2} height={58} fill="#fff" />
            <text x={cx} y={y0 + 170} textAnchor="middle" fontSize={64} fontWeight="bold" fontFamily={FONT} fill="#000">
              {name}
            </text>
            <text x={x0 + 156} y={y0 + 64} fontSize={41} fontFamily={FONT} fill={BROWN}>
              ×10<tspan dy={-16} fontSize={28}>5</tspan>
            </text>
            <text x={x0 + 156} y={y0 + 994} fontSize={41} fontFamily={FONT} fill={BLUE}>
              ×10<tspan dy={-16} fontSize={28}>5</tspan>
            </text>
          </g>
        );
      })}
      {legendItems.map((it, k) => {
        const col = Math.floor(k / 2);
        const row = k % 2;
        const x = legendX[col];
        const y = legendY[row];
        return (
          <g key={it.label}>
            <rect x={x} y={y} width={60} height={42} fill={it.color} />
            <text x={x + 108} y={y + 39} fontSize={53} fontFamily={FONT} fill="#111">
              {it.label}
            </text>
          </g>
        );
      })}
    </svg>
  );
}

export default function App() {
  // stretch the fixed-size figure so it fills the viewport the page is given
  const vw = typeof window !== 'undefined' ? window.innerWidth : FIG_W;
  const vh = typeof window !== 'undefined' ? window.innerHeight : FIG_H;
  const sx = Math.min(vw / FIG_W, 1);
  const sy = Math.min(vh / FIG_H, 1);
  return (
    <div
      style={{
        position: 'absolute',
        left: 0,
        top: 0,
        width: FIG_W,
        height: FIG_H,
        background: '#fff',
        fontFamily: FONT,
        transform: `scale(${sx}, ${sy})`,
        transformOrigin: '0 0',
      }}
    >
      {CITIES.map((name, i) => (
        <Panel key={name} index={i} />
      ))}
      <Overlay />
    </div>
  );
}
